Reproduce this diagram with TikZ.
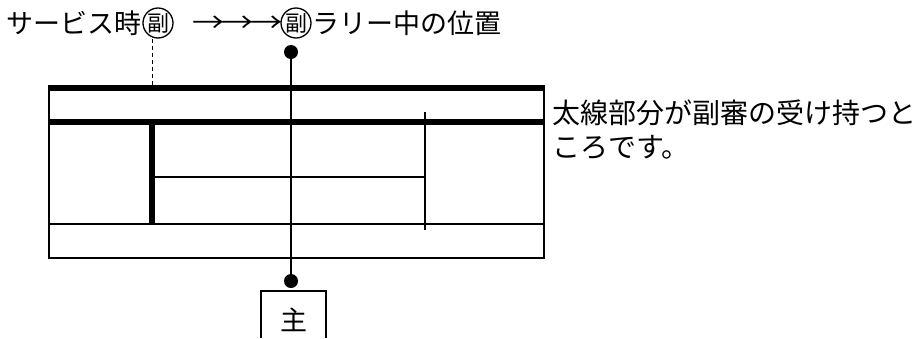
\documentclass[tikz,border=0pt]{standalone}
\usepackage{fontspec}
\usepackage{graphicx}
\newfontfamily\jp{Noto Sans CJK JP}
\newcommand{\longarr}{\makebox[29pt]{\scalebox{1.2}[1]{→}}}
\begin{document}
\begin{tikzpicture}[x=1pt,y=-1pt,
  boldrule/.style={line width=5.5pt},
  thinrule/.style={line width=1.8pt},
  txt/.style={font=\jp\fontsize{27}{34}\selectfont, inner sep=0pt},
  note/.style={font=\jp\fontsize{28}{34}\selectfont, inner sep=0pt},
  circ/.style={circle,draw,line width=1.3pt,minimum size=30pt,inner sep=0pt,font=\jp\fontsize{22}{22}\selectfont},
  dot/.style={circle,fill,minimum size=14pt,inner sep=0pt}]
\useasboundingbox (0,0) rectangle (921,338);
% top caption
\node[circ] (f1) at (158,23) {副};
\node[circ] (f2) at (296,23) {副};
\node[txt, anchor=east] (t1) at ([xshift=-1pt]f1.west) {サービス時};
\node[txt] (arr) at (238,24) {\longarr\longarr\longarr};
\node[txt, anchor=west] (t2) at ([xshift=1pt]f2.east) {ラリー中の位置};
% court frame
\draw[thinrule] (49,88) -- (49,258) -- (544,258) -- (544,88);
\draw[boldrule] (48,88) -- (545,88);
\draw[boldrule] (48,122) -- (545,122);
\draw[thinrule] (49,224) -- (544,224);
\draw[boldrule] (152,122) -- (152,224);
\draw[thinrule] (152,177) -- (425,177);
\draw[thinrule] (425,112) -- (425,230);
% dashed marker
\coordinate (dtop) at (152,86);
\draw[line width=1pt, dash pattern=on 4pt off 3pt] (f1.south -| dtop) -- (dtop);
% centre line with dots
\node[dot] (d1) at (291,52) {};
\node[dot] (d2) at (291,281) {};
\draw[thinrule] (d1.center) -- (d2.center);
% main referee box
\node[txt] (shu) at (294,320) {主};
\draw[thinrule] (261,338) -- (261,291) -- (326,291) -- (326,338);
% note
\node[note, anchor=north west, align=left] (note) at (552,100) {太線部分が副審の受け持つと\\ころです。};
\end{tikzpicture}
\end{document}
